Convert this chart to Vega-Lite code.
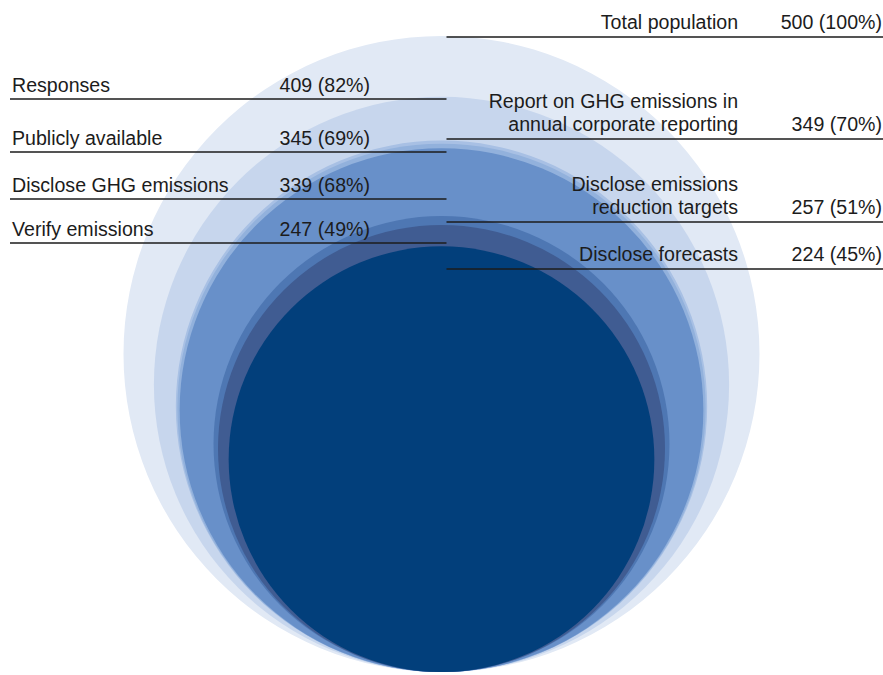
{
  "$schema": "https://vega.github.io/schema/vega-lite/v6.json",
  "width": 883,
  "height": 672,
  "padding": 0,
  "autosize": {"type": "none"},
  "background": "white",
  "config": {
    "view": {"stroke": null},
    "text": {"font": "Liberation Sans", "fontSize": 19.6, "color": "#1c1c1c"}
  },
  "data": {
    "values": [
      {"label": "Total population", "side": "right", "value": 500, "count": "500 (100%)"},
      {"label": "Responses", "side": "left", "value": 409, "count": "409 (82%)"},
      {"label": "Report on GHG emissions in\nannual corporate reporting", "side": "right", "value": 349, "count": "349 (70%)"},
      {"label": "Publicly available", "side": "left", "value": 345, "count": "345 (69%)"},
      {"label": "Disclose GHG emissions", "side": "left", "value": 339, "count": "339 (68%)"},
      {"label": "Disclose emissions\nreduction targets", "side": "right", "value": 257, "count": "257 (51%)"},
      {"label": "Verify emissions", "side": "left", "value": 247, "count": "247 (49%)"},
      {"label": "Disclose forecasts", "side": "right", "value": 224, "count": "224 (45%)"}
    ]
  },
  "layer": [
    {
      "mark": {"type": "point", "shape": "circle", "filled": true, "opacity": 1},
      "encoding": {
        "y": {
          "field": "value", "type": "quantitative",
          "scale": {"type": "sqrt", "domain": [0, 2233], "nice": false, "zero": true},
          "axis": null
        },
        "size": {
          "field": "value", "type": "quantitative",
          "scale": {"domain": [0, 500], "range": [0, 404496], "zero": true},
          "legend": null
        },
        "color": {
          "field": "label", "type": "nominal",
          "scale": {
            "domain": [
              "Total population", "Responses",
              "Report on GHG emissions in\nannual corporate reporting",
              "Publicly available", "Disclose GHG emissions",
              "Disclose emissions\nreduction targets", "Verify emissions",
              "Disclose forecasts"
            ],
            "range": ["#e1e9f5", "#c7d6ed", "#a8c0e4", "#92b1dc", "#6890c9", "#4e77b3", "#405c92", "#023f7b"]
          },
          "legend": null
        },
        "order": {"field": "value", "type": "quantitative", "sort": "descending"}
      }
    },
    {
      "layer": [
        {
          "mark": {"type": "rect", "filled": false, "stroke": "#1c1c1c", "strokeWidth": 1.6},
          "encoding": {
            "x": {"field": "side", "type": "nominal", "scale": {"type": "band", "domain": ["left", "right"], "paddingInner": 0, "paddingOuter": 0.01145, "align": 1}, "axis": null},
            "y": {"field": "value", "type": "quantitative", "scale": {"domain": [224, 247, 257, 339, 345, 349, 409, 500], "range": [269, 243, 222, 199, 152, 139, 99, 37], "nice": false, "zero": false}, "axis": null},
            "y2": {"field": "value"}
          }
        },
        {
          "transform": [{"filter": "datum.side === 'left'"}],
          "mark": {"type": "text", "align": "left", "baseline": "bottom", "dx": 2, "dy": -3},
          "encoding": {
            "x": {"field": "side", "type": "nominal", "bandPosition": 0, "scale": {"type": "band", "domain": ["left", "right"], "paddingInner": 0, "paddingOuter": 0.01145, "align": 1}, "axis": null},
            "y": {"field": "value", "type": "quantitative", "scale": {"domain": [224, 247, 257, 339, 345, 349, 409, 500], "range": [269, 243, 222, 199, 152, 139, 99, 37], "nice": false, "zero": false}, "axis": null},
            "text": {"field": "label"}
          }
        },
        {
          "transform": [{"filter": "datum.side === 'left'"}],
          "mark": {"type": "text", "align": "right", "baseline": "bottom", "dy": -3},
          "encoding": {
            "x": {"field": "side", "type": "nominal", "bandPosition": 0.8247, "scale": {"type": "band", "domain": ["left", "right"], "paddingInner": 0, "paddingOuter": 0.01145, "align": 1}, "axis": null},
            "y": {"field": "value", "type": "quantitative", "scale": {"domain": [224, 247, 257, 339, 345, 349, 409, 500], "range": [269, 243, 222, 199, 152, 139, 99, 37], "nice": false, "zero": false}, "axis": null},
            "text": {"field": "count"}
          }
        },
        {
          "transform": [{"filter": "datum.side === 'right' && indexof(datum.label, '\\n') < 0"}],
          "mark": {"type": "text", "align": "right", "baseline": "bottom", "dy": -4},
          "encoding": {
            "x": {"field": "side", "type": "nominal", "bandPosition": 0.668, "scale": {"type": "band", "domain": ["left", "right"], "paddingInner": 0, "paddingOuter": 0.01145, "align": 1}, "axis": null},
            "y": {"field": "value", "type": "quantitative", "scale": {"domain": [224, 247, 257, 339, 345, 349, 409, 500], "range": [269, 243, 222, 199, 152, 139, 99, 37], "nice": false, "zero": false}, "axis": null},
            "text": {"field": "label"}
          }
        },
        {
          "transform": [{"filter": "datum.side === 'right' && indexof(datum.label, '\\n') >= 0"}],
          "mark": {"type": "text", "align": "right", "baseline": "bottom", "dy": -27, "lineBreak": "\n", "lineHeight": 23},
          "encoding": {
            "x": {"field": "side", "type": "nominal", "bandPosition": 0.668, "scale": {"type": "band", "domain": ["left", "right"], "paddingInner": 0, "paddingOuter": 0.01145, "align": 1}, "axis": null},
            "y": {"field": "value", "type": "quantitative", "scale": {"domain": [224, 247, 257, 339, 345, 349, 409, 500], "range": [269, 243, 222, 199, 152, 139, 99, 37], "nice": false, "zero": false}, "axis": null},
            "text": {"field": "label"}
          }
        },
        {
          "transform": [{"filter": "datum.side === 'right'"}],
          "mark": {"type": "text", "align": "right", "baseline": "bottom", "dx": -1, "dy": -4},
          "encoding": {
            "x": {"field": "side", "type": "nominal", "bandPosition": 1, "scale": {"type": "band", "domain": ["left", "right"], "paddingInner": 0, "paddingOuter": 0.01145, "align": 1}, "axis": null},
            "y": {"field": "value", "type": "quantitative", "scale": {"domain": [224, 247, 257, 339, 345, 349, 409, 500], "range": [269, 243, 222, 199, 152, 139, 99, 37], "nice": false, "zero": false}, "axis": null},
            "text": {"field": "count"}
          }
        }
      ]
    }
  ],
  "resolve": {"scale": {"x": "independent", "y": "independent"}}
}
